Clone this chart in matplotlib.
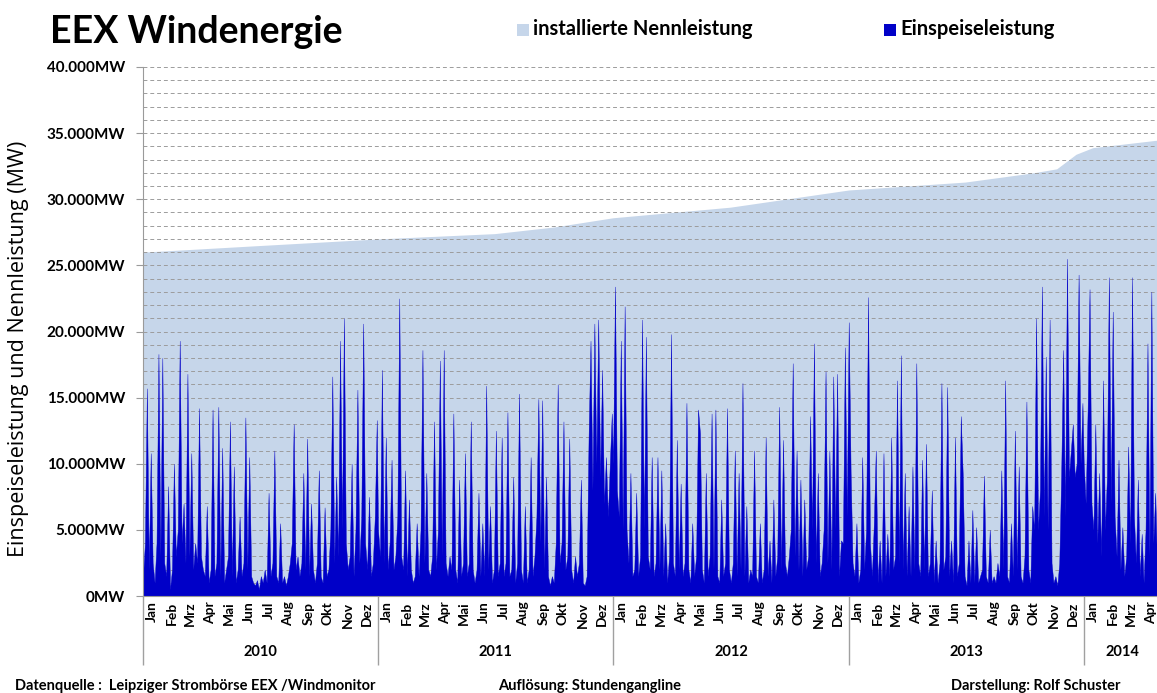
import numpy as np
import pandas as pd
import matplotlib
matplotlib.use('Agg')
import matplotlib.pyplot as plt
import matplotlib.transforms as mtransforms
from matplotlib.patches import Rectangle

plt.rcParams['font.family'] = ['Lato', 'DejaVu Sans']

wind_2010 = [1.5, 4, 15.7, 2, 10.8, 2.5, 1, 4, 18.3, 3,
             18.0, 2.5, 1.5, 8.3, 0.5, 2, 10, 3, 5, 19.3,
             4, 7, 2.5, 16.8, 3, 10.8, 2, 4, 2.5, 14.2,
             3, 2, 1.5, 6.8, 1, 2, 14.1, 1.5, 2.5, 14.3,
             1.5, 11.2, 1, 2, 3, 13.2, 1.5, 9.8, 1, 2,
             6, 1.5, 2.5, 13.5, 2, 10.5, 1.5, 1, 0.8, 1.2,
             0.5, 1.5, 1, 2, 1, 7.8, 1.5, 2.5, 11, 1.5,
             1, 5.5, 1, 1.5, 0.8, 1.5, 2.5, 4, 13, 2,
             3, 1.5, 2.5, 9.3, 2, 11.9, 1.5, 7, 2, 1,
             2.5, 9.5, 1.5, 1, 6.7, 1.5, 2, 5, 16.6, 2.5,
             9, 3, 19.3, 5, 21, 4, 2, 3, 10, 1.5,
             5, 15.6, 2.5, 6, 20.6, 4, 2, 7.5, 1.5, 2.5,
             6, 13.3]
wind_2011 = [5, 3, 17.1, 2.5, 12, 2, 4, 10.3, 2, 3,
             6, 22.5, 3, 2, 9.5, 1.5, 7.3, 2, 1, 1.5,
             5.5, 1.5, 5, 18.6, 2.5, 9.3, 2, 1.5, 3, 13.2,
             2, 5, 17.8, 3, 18.6, 2.5, 1.5, 3, 2, 13.8,
             2, 1, 8.8, 1.5, 2.5, 10.8, 1.5, 2.5, 13.2, 2,
             1, 2, 7.8, 1.5, 5.5, 1.5, 15.9, 2, 6.8, 1,
             2, 12.5, 1.5, 2.5, 12, 1.5, 2.5, 13.9, 1.5, 2,
             9, 1, 2.5, 15.3, 2, 1, 6.8, 1, 2, 10.5,
             1.5, 3, 6, 14.9, 4, 14.8, 2, 9, 1.5, 0.8,
             1.5, 1, 4, 16, 2.5, 4, 13.2, 2, 3, 11.9,
             2, 1, 3, 1.5, 2.5, 8.8, 1, 0.8, 1.5, 12,
             19.3, 8, 20.6, 10, 20.9, 9, 17.1, 7, 10.5, 6,
             10, 13.8]
wind_2012 = [10, 23.4, 8, 6, 19.3, 5, 21.9, 5, 2.5, 9.3,
             1.5, 2, 7.8, 1.5, 3, 20.9, 5, 19.6, 3, 2,
             10.5, 1.5, 2.5, 10.5, 2, 9.5, 1.5, 5.5, 1, 3,
             19.8, 2.5, 1.5, 11.8, 2, 8.5, 1.5, 2.5, 14.6, 2,
             1, 5.5, 1.5, 3, 14.1, 12.3, 2, 1, 9.3, 1.5,
             3, 13.8, 2, 14.1, 1.5, 1, 7.3, 1.5, 2.5, 14.2,
             2, 1, 2.5, 11, 1.5, 9.3, 2, 16.1, 1.5, 6.8,
             1, 2, 1.5, 11, 1.5, 1, 5.5, 1, 2, 12,
             1.5, 4.2, 1, 7.3, 1.5, 3, 14.3, 2, 11.8, 2.5,
             1.5, 3, 5, 17.6, 3, 11, 2, 8.8, 1.5, 7.3,
             2, 3, 13.6, 5, 19.1, 2.5, 9.3, 1.5, 2.5, 5,
             17, 2.5, 11, 2, 16.6, 5, 16.8, 1.5, 4.2, 4,
             18.8, 6]
wind_2013 = [20.7, 9.3, 2.5, 1.5, 5.5, 1, 2, 10.5, 2, 5,
             22.6, 4, 1.5, 5.5, 11, 1, 4.2, 1, 10.8, 1.5,
             4.7, 1.5, 12, 2, 3, 16.3, 2.5, 18.2, 2, 9.3,
             1.5, 6.8, 1.5, 9.8, 2, 17.6, 2.5, 1.5, 10.3, 2,
             11.5, 1.5, 2.5, 8, 1, 4.2, 1, 2.5, 16.1, 2,
             3, 15.8, 1.5, 4.2, 1, 12, 1.5, 2.5, 13.6, 9.3,
             1.5, 0.8, 4.2, 1, 6.5, 1, 5.2, 1, 1.5, 2,
             9.1, 1.5, 1, 5, 1, 1.5, 1, 2.5, 1.5, 9.5,
             2, 16.3, 1.5, 1, 5.5, 1.5, 12.5, 2, 9.8, 1.5,
             1, 3, 14.7, 2, 1, 6.8, 5, 21, 5, 8,
             23.4, 6, 18.1, 5, 20.9, 2.5, 1, 1.5, 0.8, 2.5,
             9.3, 18.6, 6, 25.5, 9, 11, 13, 9, 10, 24.3,
             10, 14.6]
wind_2014 = [10, 7, 14, 23.2, 7, 5, 13, 4, 9.3, 3,
             16.3, 5, 9, 24.1, 7, 21.5, 6, 3, 10.3, 2,
             5.2, 1.5, 3, 11.3, 4, 24.1, 6, 2.5, 8.8, 1.5,
             4.7, 1, 5, 19.1, 3, 23, 4, 7.8, 2, 12]

## installierte Nennleistung (MW)
cap_dates = ['2010-01-01', '2010-07-01', '2011-01-01', '2011-07-01', '2011-10-01',
             '2012-01-01', '2012-07-01', '2013-01-01', '2013-07-01', '2013-10-15',
             '2013-11-20', '2013-12-20', '2014-01-15', '2014-05-01']
cap_mw = [26000, 26500, 27000, 27400, 27900,
          28600, 29400, 30700, 31300, 32000,
          32300, 33400, 33900, 34500]

years = [2010, 2011, 2012, 2013, 2014]
months = ['Jan', 'Feb', 'Mrz', 'Apr', 'Mai', 'Jun', 'Jul', 'Aug', 'Sep', 'Okt', 'Nov', 'Dez']
yticks = np.arange(0, 40001, 5000)

blue = '#0000C8'
light = '#C6D6EA'

## Zeitreihe zusammensetzen
dates = []
vals = []
for yr, arr in zip(years, [wind_2010, wind_2011, wind_2012, wind_2013, wind_2014]):
    dates.extend(pd.date_range(f'{yr}-01-01', periods=len(arr), freq='3D'))
    vals.extend(arr)
vals = np.array(vals) * 1000

x_start = pd.Timestamp('2010-01-01')
x_end = pd.Timestamp('2014-05-01')

W, H = 1157, 693
fig = plt.figure(figsize=(W / 100, H / 100), dpi=100)
ax = fig.add_axes([143 / W, 1 - 596 / H, (1161 - 143) / W, (596 - 67) / H])

ax.fill_between(pd.to_datetime(cap_dates), cap_mw, color=light, lw=0, zorder=0.2)
ax.fill_between(dates, vals, facecolor=blue, edgecolor=blue, lw=0.3, zorder=1)

ax.set_xlim(x_start, x_end)
ax.set_ylim(0, 40000)
ax.set_axisbelow(True)

## y-Achse
ax.set_yticks(yticks)
ax.set_yticklabels([f'{v:,}'.replace(',', '.') + 'MW' for v in yticks],
                   fontweight='bold', fontsize=11)
ax.set_yticks(np.arange(0, 40001, 1000), minor=True)
ax.grid(True, axis='y', which='both', linestyle=(0, (4, 3)), color='#9C9C9C', lw=0.7)
ax.tick_params(axis='y', which='major', length=5, color='#9A9A9A', pad=8)
ax.tick_params(axis='y', which='minor', length=0)

## x-Achse: Jahresgrenzen + Monatsnamen
ax.set_xticks(pd.to_datetime([f'{y}-01-01' for y in years]))
ax.set_xticklabels([])
ax.tick_params(axis='x', which='major', length=50, color='#A0A0A0', width=1)
mid, mlabels = [], []
for yr in years:
    for m in range(12):
        d = pd.Timestamp(yr, m + 1, 15)
        if d < x_end:
            mid.append(d)
            mlabels.append(months[m])
ax.set_xticks(mid, minor=True)
ax.set_xticklabels(mlabels, minor=True, rotation=90, fontsize=10, fontweight='bold')
ax.tick_params(axis='x', which='minor', length=0, pad=4)

trans = mtransforms.blended_transform_factory(ax.transData, ax.transAxes)
for yr in years:
    a = pd.Timestamp(yr, 1, 1)
    b = min(pd.Timestamp(yr + 1, 1, 1), x_end)
    ax.text(a + (b - a) / 2, -0.106, str(yr), transform=trans, ha='center', va='center',
            fontsize=10.5, fontweight='bold')

for s in ['top', 'right']:
    ax.spines[s].set_visible(False)
for s in ['left', 'bottom']:
    ax.spines[s].set_color('#9A9A9A')

## Titel, Achsentitel, Legende
fig.text(50 / W, 1 - 32 / H, 'EEX Windenergie', fontsize=27, fontweight='bold', va='center')
fig.text(19 / W, 1 - 349 / H, 'Einspeiseleistung und Nennleistung (MW)', rotation=90,
         fontsize=15.5, family=['Open Sans', 'DejaVu Sans'], ha='center', va='center')

fig.add_artist(Rectangle((517 / W, 1 - 36 / H), 12 / W, 12 / H, transform=fig.transFigure,
                         facecolor=light, edgecolor='none'))
fig.text(533 / W, 1 - 29 / H, 'installierte Nennleistung', fontsize=14.5, fontweight='bold',
         va='center')
fig.add_artist(Rectangle((884 / W, 1 - 36 / H), 12 / W, 12 / H, transform=fig.transFigure,
                         facecolor=blue, edgecolor='none'))
fig.text(900 / W, 1 - 29 / H, 'Einspeiseleistung', fontsize=14.5, fontweight='bold',
         va='center')

## Fusszeile
fig.text(15 / W, 1 - 686 / H, 'Datenquelle :  Leipziger Strombörse EEX /Windmonitor',
         fontsize=10.5, fontweight='bold', va='center')
fig.text(498 / W, 1 - 686 / H, 'Auflösung: Stundengangline',
         fontsize=10.5, fontweight='bold', va='center')
fig.text(951 / W, 1 - 686 / H, 'Darstellung: Rolf Schuster',
         fontsize=10.5, fontweight='bold', va='center')

fig.savefig('out.png', dpi=100)
